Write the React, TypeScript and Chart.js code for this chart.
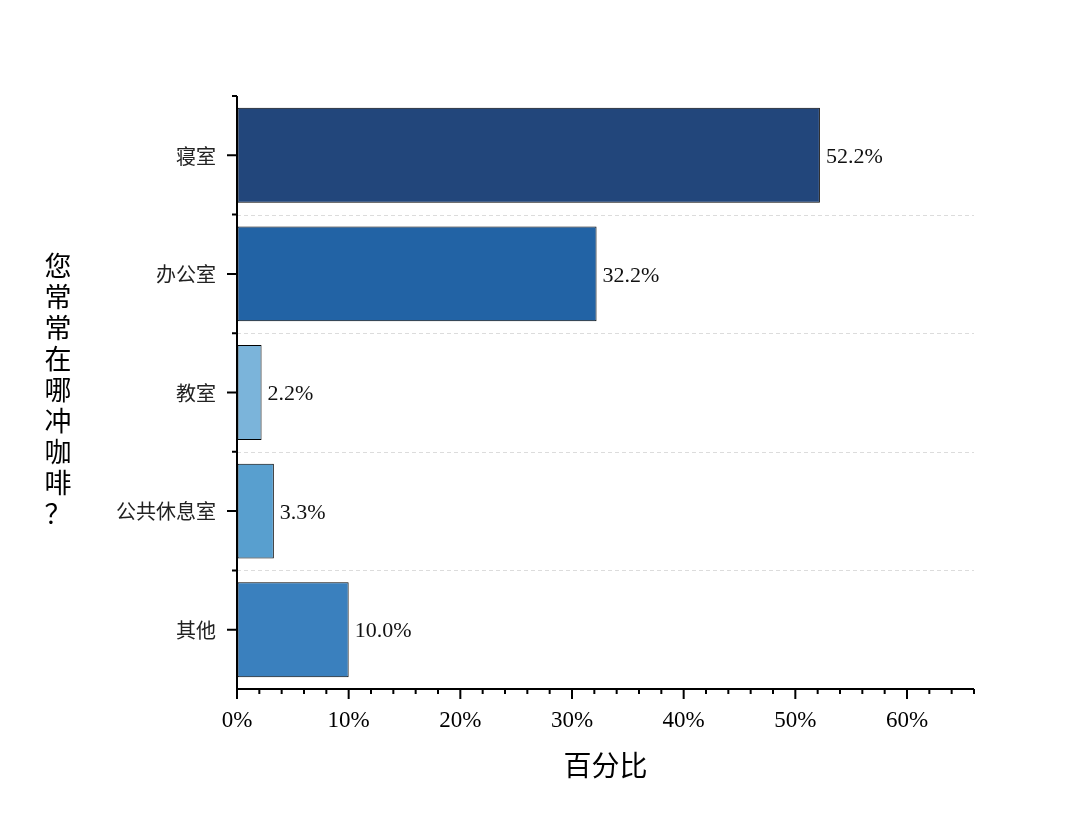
import React, { useEffect, useRef } from "react";
import { Chart, registerables } from "chart.js";

Chart.register(...registerables);

const categories = ["寝室", "办公室", "教室", "公共休息室", "其他"];
const values = [52.2, 32.2, 2.2, 3.3, 10.0];
const barColors = ["#22467B", "#2263A5", "#7BB4DA", "#589FCF", "#3A80BE"];
const xMajorTicks = [0, 10, 20, 30, 40, 50, 60];
const xMax = 66;
const xMinorStep = 2;
const yTitle = "您常常在哪冲咖啡？";
const xTitle = "百分比";

const FONT = '"Liberation Serif", "Noto Sans CJK SC", serif';

const decorPlugin = {
  id: "decor",
  beforeDatasetsDraw(chart: any) {
    const { ctx, chartArea } = chart;
    const y = chart.scales.y;
    ctx.save();
    ctx.strokeStyle = "#dcdcdc";
    ctx.lineWidth = 1;
    ctx.setLineDash([4, 3]);
    for (let i = 1; i < categories.length; i++) {
      const py = Math.round((y.getPixelForValue(i - 1) + y.getPixelForValue(i)) / 2) + 0.5;
      ctx.beginPath();
      ctx.moveTo(chartArea.left, py);
      ctx.lineTo(chartArea.right, py);
      ctx.stroke();
    }
    ctx.restore();
  },
  afterDatasetsDraw(chart: any) {
    const { ctx, chartArea } = chart;
    const x = chart.scales.x;
    const y = chart.scales.y;
    const { left, right, top, bottom } = chartArea;
    ctx.save();
    ctx.strokeStyle = "#000";
    ctx.lineWidth = 2;
    ctx.setLineDash([]);
    // axes
    ctx.beginPath();
    ctx.moveTo(left, top);
    ctx.lineTo(left, bottom);
    ctx.moveTo(left - 1, bottom);
    ctx.lineTo(right, bottom);
    ctx.stroke();
    // y ticks
    const step = Math.abs(y.getPixelForValue(1) - y.getPixelForValue(0));
    ctx.beginPath();
    for (let i = 0; i < categories.length; i++) {
      const py = y.getPixelForValue(i);
      ctx.moveTo(left - 10, py);
      ctx.lineTo(left, py);
      const pb = py - step / 2;
      ctx.moveTo(left - 5, pb);
      ctx.lineTo(left, pb);
    }
    // x ticks
    for (const t of xMajorTicks) {
      const px = x.getPixelForValue(t);
      ctx.moveTo(px, bottom);
      ctx.lineTo(px, bottom + 10);
    }
    for (let v = xMinorStep; v <= xMax; v += xMinorStep) {
      if (v % 10 === 0) continue;
      const px = x.getPixelForValue(v);
      ctx.moveTo(px, bottom);
      ctx.lineTo(px, bottom + 5);
    }
    ctx.stroke();
    // data labels
    ctx.fillStyle = "#111";
    ctx.font = `22px ${FONT}`;
    ctx.textAlign = "left";
    ctx.textBaseline = "middle";
    values.forEach((v, i) => {
      ctx.fillText(v.toFixed(1) + "%", x.getPixelForValue(v) + 6, y.getPixelForValue(i) + 2);
    });
    // y title (vertical stacked)
    ctx.fillStyle = "#000";
    ctx.font = `27px ${FONT}`;
    ctx.textAlign = "center";
    const chars = Array.from(yTitle);
    const lh = 31;
    const cy = (top + bottom) / 2;
    const startY = cy - ((chars.length - 1) * lh) / 2;
    chars.forEach((c, i) => ctx.fillText(c, 58, startY + i * lh));
    // x title
    ctx.font = `28px ${FONT}`;
    ctx.fillText(xTitle, (left + right) / 2, 769);
    ctx.restore();
  },
};

export default function App() {
  const ref = useRef<HTMLCanvasElement>(null);
  useEffect(() => {
    document.body.style.margin = "0";
    const chart = new Chart(ref.current as HTMLCanvasElement, {
      type: "bar",
      data: {
        labels: categories,
        datasets: [
          {
            data: values,
            backgroundColor: barColors,
            borderColor: "#000",
            borderWidth: 1,
            borderSkipped: false,
            barPercentage: 0.8,
            categoryPercentage: 1,
          },
        ],
      },
      options: {
        indexAxis: "y",
        responsive: false,
        animation: false,
        devicePixelRatio: 1,
        layout: { padding: { top: 96, right: 106, left: 0, bottom: 0 } },
        plugins: { legend: { display: false }, tooltip: { enabled: false } },
        scales: {
          x: {
            type: "linear",
            min: 0,
            max: xMax,
            border: { display: false },
            grid: { display: true, drawOnChartArea: false, drawTicks: true, tickLength: 10, color: "rgba(0,0,0,0)" },
            ticks: {
              stepSize: 10,
              color: "#000",
              padding: 8,
              maxRotation: 0,
              font: { family: FONT, size: 23 },
              callback: (v: any) => v + "%",
            },
            afterBuildTicks: (s: any) => {
              s.ticks = s.ticks.filter((t: any) => xMajorTicks.includes(t.value));
            },
            afterFit: (s: any) => {
              s.height = 138;
            },
          } as any,
          y: {
            type: "category",
            border: { display: false },
            grid: { display: true, drawOnChartArea: false, drawTicks: true, tickLength: 10, color: "rgba(0,0,0,0)" },
            ticks: { color: "#222", padding: 11, labelOffset: 3, font: { family: FONT, size: 20 } },
            afterFit: (s: any) => {
              s.width = 237;
            },
          } as any,
        },
      },
      plugins: [decorPlugin],
    });
    return () => chart.destroy();
  }, []);
  return (
    <div style={{ position: "absolute", left: 0, top: 0, width: 1080, height: 827, background: "#fff" }}>
      <canvas ref={ref} width={1080} height={827} style={{ display: "block" }} />
    </div>
  );
}
